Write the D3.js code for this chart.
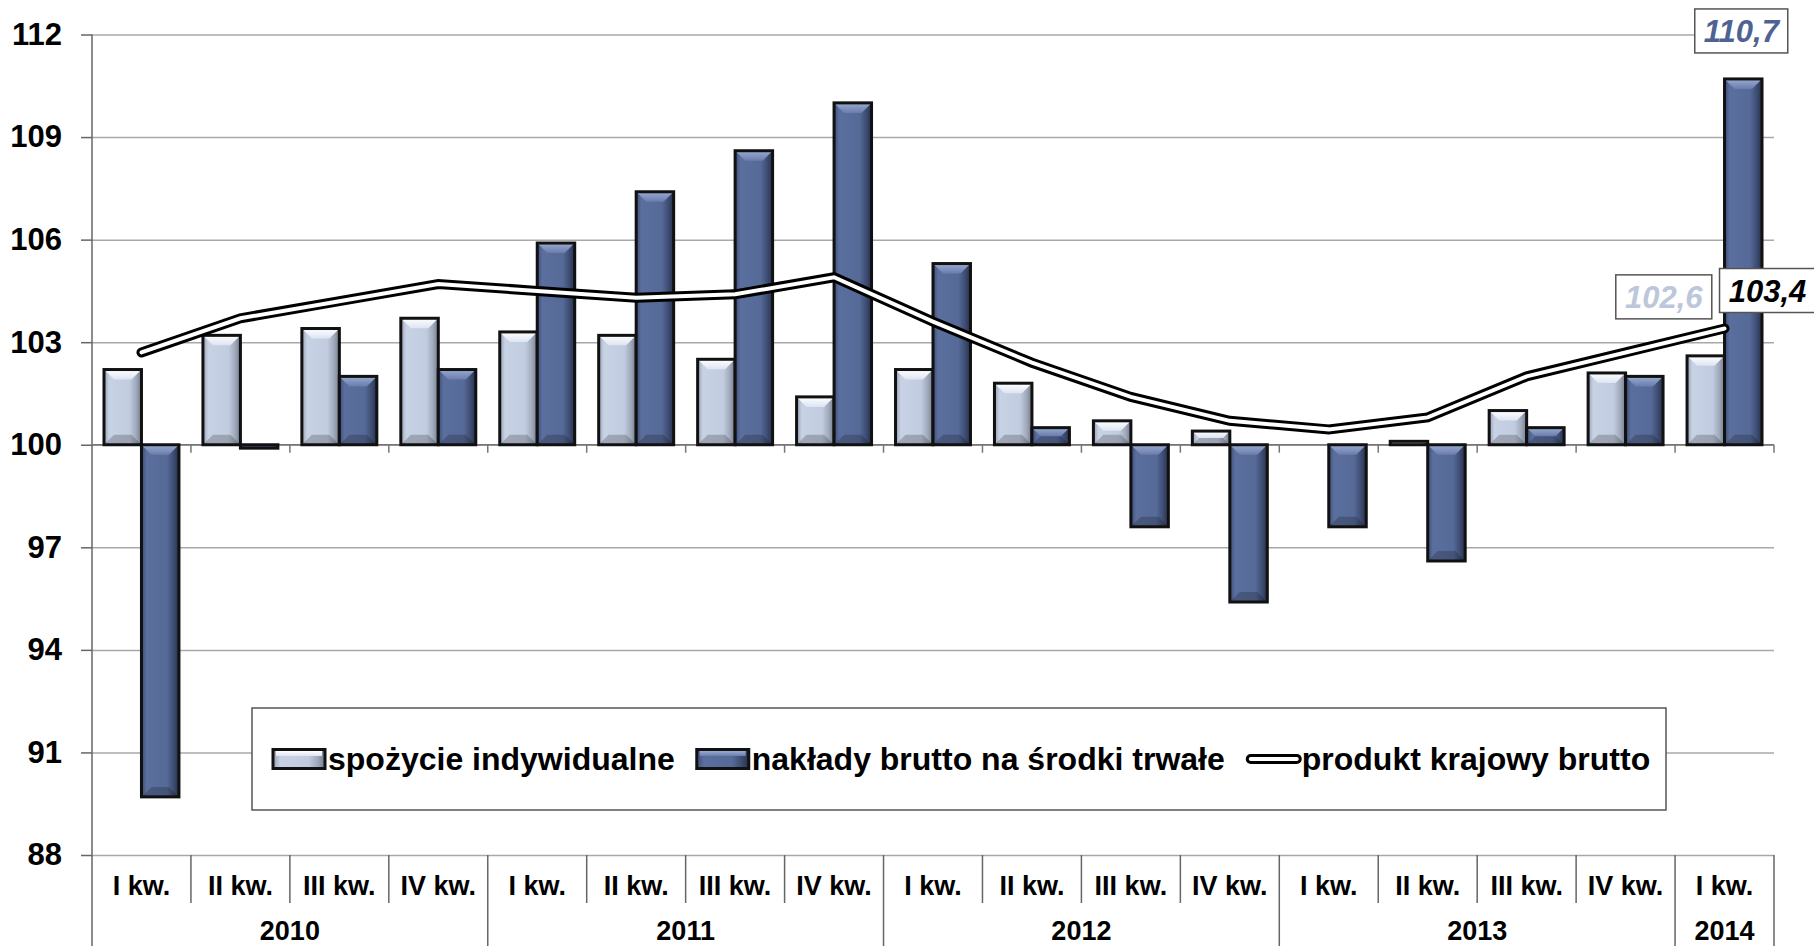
<!DOCTYPE html>
<html lang="pl">
<head>
<meta charset="utf-8">
<title>PKB, spożycie i nakłady</title>
<script src="https://cdn.jsdelivr.net/npm/d3@7"></script>
<style>
  body { margin: 0; background: #ffffff; }
  text { font-family: "Liberation Sans", Arial, Helvetica, sans-serif; font-weight: bold; }
</style>
</head>
<body>
<div id="chart"></div>
<script>
// ---------------- data ----------------
var quarters = ["I kw.", "II kw.", "III kw.", "IV kw.",
                "I kw.", "II kw.", "III kw.", "IV kw.",
                "I kw.", "II kw.", "III kw.", "IV kw.",
                "I kw.", "II kw.", "III kw.", "IV kw.",
                "I kw."];
var yearLabels = ["2010", "2011", "2012", "2013", "2014"];
var yearSpans = [4, 4, 4, 4, 1];

var spozycie = [102.2, 103.2, 103.4, 103.7, 103.3, 103.2, 102.5, 101.4,
                102.2, 101.8, 100.7, 100.4, 100.0, 100.1, 101.0, 102.1, 102.6];
var naklady = [89.7, 99.9, 102.0, 102.2, 105.9, 107.4, 108.6, 110.0,
               105.3, 100.5, 97.6, 95.4, 97.6, 96.6, 100.5, 102.0, 110.7];
var pkb = [102.7, 103.7, 104.2, 104.7, 104.5, 104.3, 104.4, 104.9,
           103.6, 102.4, 101.4, 100.7, 100.45, 100.8, 102.0, 102.7, 103.4];

var yTicks = [88, 91, 94, 97, 100, 103, 106, 109, 112];
var seriesNames = ["spożycie indywidualne", "nakłady brutto na środki trwałe", "produkt krajowy brutto"];

// ---------------- layout ----------------
var width = 1814, height = 946;
var plotLeft = 92, plotRight = 1774, plotTop = 34.5, plotBottom = 855;

var svg = d3.select("#chart").append("svg")
            .attr("width", width)
            .attr("height", height);

var defs = svg.append("defs");

function hGrad(id, stops) {
  var g = defs.append("linearGradient").attr("id", id)
              .attr("x1", "0%").attr("x2", "100%").attr("y1", "0%").attr("y2", "0%");
  stops.forEach(function(s) { g.append("stop").attr("offset", s[0]).attr("stop-color", s[1]); });
}
function vGrad(id, stops) {
  var g = defs.append("linearGradient").attr("id", id)
              .attr("x1", "0%").attr("x2", "0%").attr("y1", "0%").attr("y2", "100%");
  stops.forEach(function(s) { g.append("stop").attr("offset", s[0]).attr("stop-color", s[1]); });
}
hGrad("lightBody", [["0%", "#98a1b3"], ["14%", "#c8d2e5"], ["68%", "#c2cce0"], ["86%", "#a0a9bb"], ["100%", "#747c8d"]]);
hGrad("darkBody", [["0%", "#3d4d75"], ["14%", "#5b6f9e"], ["68%", "#566a98"], ["86%", "#3d4c71"], ["100%", "#27314d"]]);
vGrad("lightTop", [["0%", "#ffffff"], ["100%", "#dde4f1"]]);
vGrad("darkTop", [["0%", "#9aaad2"], ["100%", "#6a7dab"]]);

var x = d3.scaleBand().domain(d3.range(quarters.length)).range([plotLeft, plotRight]);
var xs = d3.scaleBand().domain([0, 1]).range([0, x.bandwidth()]).paddingOuter(0.32);
var y = d3.scaleLinear().domain([88, 112]).range([plotBottom, plotTop]);

// ---------------- grid ----------------
var grid = svg.append("g")
              .attr("transform", "translate(" + plotLeft + ",0)")
              .call(d3.axisLeft(y).tickValues(yTicks).tickSize(-(plotRight - plotLeft)).tickFormat(""));
grid.select(".domain").remove();
grid.selectAll("line").attr("stroke", "#a8a8a8").attr("stroke-width", 1.5);

// ---------------- y axis ----------------
var yAxis = svg.append("g")
               .attr("transform", "translate(" + plotLeft + ",0)")
               .call(d3.axisLeft(y).tickValues(yTicks).tickSize(11).tickPadding(19).tickSizeOuter(0));
yAxis.select(".domain").remove();
yAxis.selectAll("line").attr("stroke", "#666").attr("stroke-width", 1.5);
yAxis.selectAll("text").attr("font-size", "31px").attr("fill", "#000")
     .style("font-family", "'Liberation Sans', Arial, sans-serif").style("font-weight", "bold");

svg.append("line")
   .attr("x1", plotLeft).attr("x2", plotLeft)
   .attr("y1", plotTop).attr("y2", height)
   .attr("stroke", "#666").attr("stroke-width", 1.5);

// category axis crossing at 100
svg.append("line")
   .attr("x1", plotLeft).attr("x2", plotRight)
   .attr("y1", y(100)).attr("y2", y(100))
   .attr("stroke", "#777").attr("stroke-width", 1.5);
svg.append("g").selectAll("line")
   .data(d3.range(1, quarters.length + 1))
   .join("line")
   .attr("x1", function(i) { return i < quarters.length ? x(i) : plotRight; })
   .attr("x2", function(i) { return i < quarters.length ? x(i) : plotRight; })
   .attr("y1", y(100)).attr("y2", y(100) + 8)
   .attr("stroke", "#777").attr("stroke-width", 1.5);

// ---------------- bars ----------------
function drawBars(values, k, bodyFill, topFill) {
  var g = svg.append("g");
  var bw = xs.bandwidth();
  values.forEach(function(v, i) {
    var x0 = x(i) + xs(k);
    var y0 = Math.min(y(v), y(100));
    var h = Math.abs(y(v) - y(100));
    if (h < 0.5) return;
    var bar = g.append("g");
    bar.append("rect")
       .attr("x", x0).attr("y", y0)
       .attr("width", bw).attr("height", h)
       .attr("fill", bodyFill);
    var b = Math.min(10, h / 2);
    bar.append("polygon")
       .attr("points", [[x0, y0], [x0 + bw, y0], [x0 + bw - b, y0 + b], [x0 + b, y0 + b]].map(function(p) { return p.join(","); }).join(" "))
       .attr("fill", topFill);
    bar.append("polygon")
       .attr("points", [[x0, y0 + h], [x0 + bw, y0 + h], [x0 + bw - b, y0 + h - b], [x0 + b, y0 + h - b]].map(function(p) { return p.join(","); }).join(" "))
       .attr("fill", "#000").attr("opacity", 0.2);
    bar.append("rect")
       .attr("x", x0).attr("y", y0)
       .attr("width", bw).attr("height", h)
       .attr("fill", "none")
       .attr("stroke", "#111").attr("stroke-width", 3);
  });
}
drawBars(spozycie, 0, "url(#lightBody)", "url(#lightTop)");
drawBars(naklady, 1, "url(#darkBody)", "url(#darkTop)");

// ---------------- line ----------------
var line = d3.line()
             .x(function(d, i) { return x(i) + x.bandwidth() / 2; })
             .y(function(d) { return y(d); });
svg.append("path").datum(pkb).attr("d", line)
   .attr("fill", "none").attr("stroke", "#000").attr("stroke-width", 10)
   .attr("stroke-linecap", "round").attr("stroke-linejoin", "miter");
svg.append("path").datum(pkb).attr("d", line)
   .attr("fill", "none").attr("stroke", "#fff").attr("stroke-width", 4)
   .attr("stroke-linecap", "round").attr("stroke-linejoin", "miter");

// ---------------- category labels ----------------
svg.append("g").selectAll("text")
   .data(quarters)
   .join("text")
   .attr("x", function(d, i) { return x(i) + x.bandwidth() / 2; })
   .attr("y", 895)
   .attr("text-anchor", "middle")
   .attr("font-size", "27px")
   .text(function(d) { return d; });

var start = 0;
var yearStarts = [];
yearSpans.forEach(function(n) { yearStarts.push(start); start += n; });

svg.append("g").selectAll("line")
   .data(d3.range(1, quarters.length + 1))
   .join("line")
   .attr("x1", function(i) { return i < quarters.length ? x(i) : plotRight; })
   .attr("x2", function(i) { return i < quarters.length ? x(i) : plotRight; })
   .attr("y1", plotBottom)
   .attr("y2", function(i) { return (i % 4 === 0 || i === quarters.length) ? height : 903; })
   .attr("stroke", "#666").attr("stroke-width", 1.5);

svg.append("g").selectAll("text")
   .data(yearLabels)
   .join("text")
   .attr("x", function(d, j) {
     var a = x(yearStarts[j]);
     var b = x(yearStarts[j]) + yearSpans[j] * x.step();
     return (a + b) / 2;
   })
   .attr("y", 940)
   .attr("text-anchor", "middle")
   .attr("font-size", "27px")
   .text(function(d) { return d; });

// ---------------- data labels ----------------
var last = quarters.length - 1;
function valueBox(cx, cy, w, txt, color) {
  svg.append("rect")
     .attr("x", cx - w / 2).attr("y", cy - 22)
     .attr("width", w).attr("height", 44)
     .attr("fill", "#fff").attr("stroke", "#555").attr("stroke-width", 1.5);
  svg.append("text")
     .attr("x", cx).attr("y", cy + 11)
     .attr("text-anchor", "middle")
     .attr("font-size", "31px").attr("font-style", "italic")
     .attr("fill", color)
     .text(txt);
}
var fmt = function(v) { return v.toFixed(1).replace(".", ","); };
valueBox(x(last) + xs(1) + xs.bandwidth() / 2 - 2, y(naklady[last]) - 48, 93, fmt(naklady[last]), "#4f6393");
valueBox(x(last) + xs(0) + xs.bandwidth() / 2 - 42, y(spozycie[last]) - 59, 96, fmt(spozycie[last]), "#bcc7dc");
valueBox(x(last) + x.bandwidth() / 2 + 43, y(pkb[last]) - 38, 96, fmt(pkb[last]), "#000");

// ---------------- legend ----------------
var lg = svg.append("g");
lg.append("rect")
  .attr("x", 252).attr("y", 708)
  .attr("width", 1414).attr("height", 102)
  .attr("fill", "#fff").attr("stroke", "#555").attr("stroke-width", 1.5);

var lx = 273, ly = 759;
seriesNames.forEach(function(name, k) {
  if (k < 2) {
    lg.append("rect")
      .attr("x", lx).attr("y", ly - 9.5)
      .attr("width", 52).attr("height", 19)
      .attr("fill", k === 0 ? "url(#lightBody)" : "url(#darkBody)")
      .attr("stroke", "#111").attr("stroke-width", 3);
    lg.append("rect")
      .attr("x", lx + 3).attr("y", ly - 8)
      .attr("width", 46).attr("height", 5)
      .attr("fill", k === 0 ? "url(#lightTop)" : "url(#darkTop)");
  } else {
    lg.append("line")
      .attr("x1", lx + 4).attr("x2", lx + 50).attr("y1", ly).attr("y2", ly)
      .attr("stroke", "#000").attr("stroke-width", 10).attr("stroke-linecap", "round");
    lg.append("line")
      .attr("x1", lx + 4).attr("x2", lx + 50).attr("y1", ly).attr("y2", ly)
      .attr("stroke", "#fff").attr("stroke-width", 4).attr("stroke-linecap", "round");
  }
  var t = lg.append("text")
            .attr("x", lx + 55).attr("y", ly + 11)
            .attr("font-size", "32px")
            .text(name);
  lx = lx + 55 + t.node().getComputedTextLength() + 22;
});
</script>
</body>
</html>
